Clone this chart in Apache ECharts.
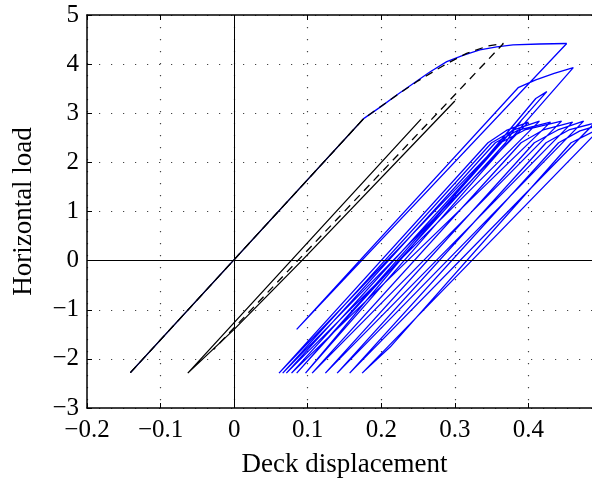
<!DOCTYPE html>
<html><head><meta charset="utf-8">
<script src="https://cdn.jsdelivr.net/npm/echarts@6/dist/echarts.min.js"></script>
<style>html,body{margin:0;padding:0;background:#fff}#c{width:592px;height:491px}</style>
</head><body><div id="c"></div>
<script>
// Tick labels (0.5 lies outside the visible picture)
const xTickLabels = ['−0.2','−0.1','0','0.1','0.2','0.3','0.4'];
const yTickLabels = ['−3','−2','−1','0','1','2','3','4','5'];
const xName = 'Deck displacement';
const yName = 'Horizontal load';

// Blue model: backbone, large cycles, then ratcheting cycles
const blueBackbone = [[-0.141,-2.28],[0.176,2.89],[0.199,3.13],[0.222,3.38],[0.244,3.61],[0.266,3.84],[0.289,4.05],[0.311,4.18],[0.334,4.29],[0.357,4.35],[0.379,4.39],[0.415,4.41],[0.452,4.42]];
const blueCycles = [[0.452,4.42],[0.085,-1.40],[0.386,3.52],[0.41,3.68],[0.435,3.81],[0.461,3.93],
  [0.097,-2.29],[0.41,3.3],[0.425,3.44],
  [0.085,-2.29],[0.369,2.4],[0.38,2.65],[0.39,2.84],
  [0.061,-2.29],[0.345,2.4],[0.37,2.65],[0.40,2.82],
  [0.066,-2.29],[0.35,2.4],[0.38,2.66],[0.415,2.84],
  [0.071,-2.29],[0.355,2.4],[0.385,2.65],[0.43,2.82],
  [0.078,-2.29],[0.362,2.4],[0.395,2.66],[0.445,2.84],
  [0.106,-2.29],[0.39,2.4],[0.42,2.66],[0.46,2.82],
  [0.124,-2.29],[0.408,2.4],[0.44,2.66],[0.475,2.84],
  [0.140,-2.29],[0.424,2.4],[0.455,2.66],[0.49,2.8],
  [0.157,-2.29],[0.441,2.4],[0.47,2.64],[0.505,2.8],
  [0.174,-2.29],[0.212,-1.76],[0.458,2.4],[0.49,2.64],[0.52,2.8]];

// Black solid model
const blackSolidA = [[-0.141,-2.28],[0.176,2.89]];
const blackSolidB = [[0.254,2.88],[-0.063,-2.29],[0.0,-1.40],[0.09,-0.03],[0.30,3.25]];
// Black dashed model
const blackDashed = [[-0.141,-2.28],[0.176,2.89],[0.226,3.42],[0.25,3.66],[0.289,4.01],[0.316,4.22],[0.345,4.37],[0.366,4.42],[-0.028,-1.81]];

const FONT = '"Liberation Serif", "DejaVu Serif", serif';
const chart = echarts.init(document.getElementById('c'), null, {renderer:'canvas'});
function line(data, color, type, z){
  return {type:'line', data, showSymbol:false, symbol:'none', z, animation:false, silent:true,
    lineStyle:{color, width:1.3, type}, clip:true};
}
const xMin=-0.2, xStep=0.1, yMin=-3;
chart.setOption({
  animation:false,
  grid:{left:87, top:15, bottom:83, right:-10, containLabel:false, outerBoundsMode:'none'},
  xAxis:[{type:'value', min:-0.2, max:0.5, interval:0.1, position:'bottom',
    name:xName, nameLocation:'middle', nameGap:43,
    nameTextStyle:{fontFamily:FONT, fontSize:27, color:'#000'},
    axisLine:{show:true, onZero:false, lineStyle:{color:'#000', width:1.5}},
    axisTick:{show:true, inside:true, length:5, lineStyle:{color:'#000'}},
    axisLabel:{fontFamily:FONT, fontSize:25, color:'#000', margin:10,
      formatter:v=>xTickLabels[Math.round((v-xMin)/xStep)] || ''},
    splitLine:{show:true, lineStyle:{color:'#444', width:1.2, type:[1.2,10.8]}}},
   {type:'value', min:-0.2, max:0.5, interval:0.1, position:'top',
    axisLine:{show:true, onZero:false, lineStyle:{color:'#000', width:1.5}},
    axisTick:{show:true, inside:true, length:5, lineStyle:{color:'#000'}},
    axisLabel:{show:false}, splitLine:{show:false}}],
  yAxis:{type:'value', min:-3, max:5, interval:1,
    name:yName, nameLocation:'middle', nameGap:50,
    nameTextStyle:{fontFamily:FONT, fontSize:27, color:'#000'},
    axisLine:{show:true, onZero:false, lineStyle:{color:'#000', width:1.5}},
    axisTick:{show:true, inside:true, length:5, lineStyle:{color:'#000'}},
    axisLabel:{fontFamily:FONT, fontSize:25, color:'#000', margin:8,
      formatter:v=>yTickLabels[Math.round(v-yMin)]},
    splitLine:{show:true, lineStyle:{color:'#444', width:1.2, type:[1.2,10.8]}}},
  series:[
    Object.assign(line([], '#000', 'solid', 1), {markLine:{silent:true, symbol:['none','none'], label:{show:false},
      lineStyle:{color:'#000', width:1, type:'solid'}, animation:false,
      data:[{xAxis:0},{yAxis:0}]}}),
    line(blueBackbone, '#0000ff', 'solid', 2),
    line(blueCycles, '#0000ff', 'solid', 2),
    line(blackSolidA, '#000', 'solid', 3),
    line(blackSolidB, '#000', 'solid', 3),
    line(blackDashed, '#000', [8,6], 4)
  ]
});
</script></body></html>
